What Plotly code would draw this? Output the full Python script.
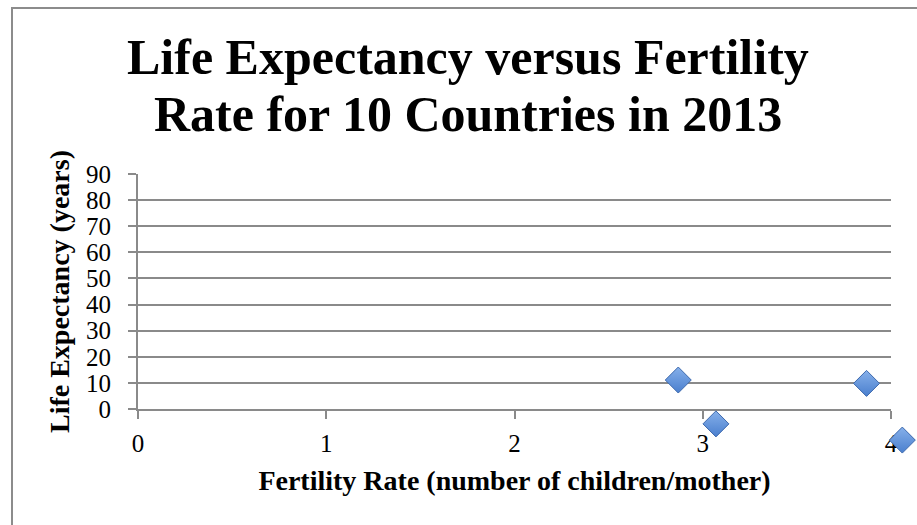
import plotly.graph_objects as go

# Fertility rate (children per mother) and life expectancy (years)
fertility = [2.87, 3.07, 3.87, 4.06]
life_exp = [11.1, -5.7, 9.8, -11.9]

y_ticks = [0, 10, 20, 30, 40, 50, 60, 70, 80, 90]
x_ticks = [0, 1, 2, 3, 4]
x_range = [0, 4]
y_range = [0, 90]

title_lines = ["Life Expectancy versus Fertility", "Rate for 10 Countries in 2013"]
x_title = "Fertility Rate (number of children/mother)"
y_title = "Life Expectancy (years)"

W, H = 917, 525
# plot-area edges in pixels
PL, PR, PT, PB = 138, 891, 174, 409

GRID = "#8a8a8a"
SERIF = "Liberation Serif"

# pixels per data unit on the visible axes
ppx = (PR - PL) / (x_range[1] - x_range[0])
ppy = (PB - PT) / (y_range[1] - y_range[0])

# full-figure axes with the same scale, so markers beyond the
# frame of the grid are still drawn
x2_range = [x_range[0] - PL / ppx, x_range[1] + (W - PR) / ppx]
y2_range = [y_range[0] - (H - PB) / ppy, y_range[1] + PT / ppy]

fig = go.Figure()
# empty trace that anchors the visible grid/axes subplot
fig.add_trace(go.Scatter(x=[], y=[], mode="markers", showlegend=False,
                         hoverinfo="skip"))
fig.add_trace(go.Scatter(
    x=fertility, y=life_exp, mode="markers", cliponaxis=False,
    xaxis="x2", yaxis="y2",
    marker=dict(symbol="diamond", size=20, color="#86b0ea",
                gradient=dict(type="vertical", color="#4a7fce"),
                line=dict(color="#3d69ad", width=1)),
    showlegend=False, hoverinfo="x+y",
))

axis_common = dict(showline=True, linecolor=GRID, linewidth=2,
                   ticks="outside", ticklen=8, tickcolor=GRID, tickwidth=2,
                   fixedrange=True, zeroline=False, automargin=False)

fig.update_layout(
    width=W, height=H,
    margin=dict(l=0, r=0, t=0, b=0, autoexpand=False),
    paper_bgcolor="white", plot_bgcolor="rgba(0,0,0,0)",
    font=dict(family=SERIF, color="black"),
    xaxis=dict(
        domain=[PL / W, PR / W], range=x_range,
        tickvals=x_ticks, ticktext=[str(v) for v in x_ticks],
        showgrid=False, tickfont=dict(size=25, family=SERIF),
        ticklabelstandoff=3,
        title=dict(text="<b>" + x_title + "</b>",
                   font=dict(size=28, family=SERIF), standoff=14),
        **axis_common,
    ),
    yaxis=dict(
        domain=[(H - PB) / H, (H - PT) / H], range=y_range,
        tickvals=y_ticks, ticktext=[str(v) for v in y_ticks],
        showgrid=True, gridcolor=GRID, gridwidth=2,
        tickfont=dict(size=25, family=SERIF), ticklabelstandoff=12,
        title=dict(text="<b>" + y_title + "</b>",
                   font=dict(size=28, family=SERIF), standoff=8),
        **axis_common,
    ),
    xaxis2=dict(domain=[0, 1], range=x2_range, visible=False,
                anchor="y2", fixedrange=True, automargin=False),
    yaxis2=dict(domain=[0, 1], range=y2_range, visible=False,
                anchor="x2", fixedrange=True, automargin=False),
    annotations=[
        dict(text="<b>" + title_lines[0] + "</b>", xref="paper", yref="paper",
             x=468 / W, y=1 - 74 / H, xanchor="center", yanchor="bottom",
             showarrow=False, font=dict(family=SERIF, size=50, color="black"),
             yshift=-13),
        dict(text="<b>" + title_lines[1] + "</b>", xref="paper", yref="paper",
             x=468 / W, y=1 - 131 / H, xanchor="center", yanchor="bottom",
             showarrow=False, font=dict(family=SERIF, size=50, color="black"),
             yshift=-13),
    ],
    shapes=[dict(type="rect", xref="paper", yref="paper",
                 x0=12 / W, y0=-1, x1=2, y1=1 - 8 / H,
                 line=dict(color="#8c8c8c", width=2), fillcolor="rgba(0,0,0,0)",
                 layer="below")],
)

fig.write_html("out.html")
